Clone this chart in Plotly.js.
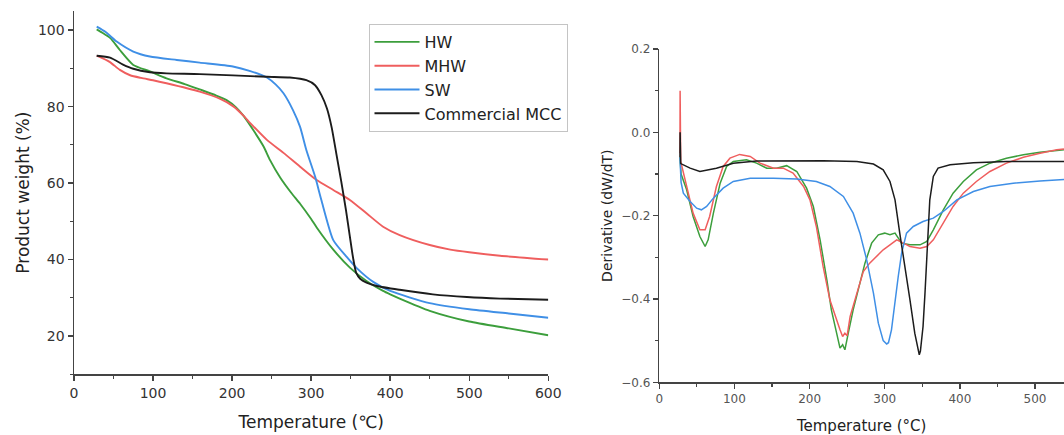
<!DOCTYPE html>
<html>
<head>
<meta charset="utf-8">
<script src="https://cdn.plot.ly/plotly-3.0.1.min.js"></script>
<style>html,body{margin:0;padding:0;background:#fff;}#chart{width:1064px;height:435px;}</style>
</head>
<body>
<div id="chart"></div>
<script>
// ---- TGA (left panel) ----
var seriesNames = ["HW", "MHW", "SW", "Commercial MCC"];

var tgaT_HW = [28.7, 36, 46, 58, 75, 96, 117, 140, 159, 180, 193, 205, 214, 227, 240, 248, 261, 275, 286, 300, 307, 328, 349, 370, 391, 400, 412, 450, 500, 550, 600];
var tgaW_HW = [100.2, 99.3, 97.9, 94.8, 90.9, 89.2, 87.4, 85.9, 84.5, 82.9, 81.7, 79.8, 77.7, 73.8, 69.5, 66, 61.4, 57.4, 54.6, 50.6, 48.4, 42.6, 37.9, 34.4, 31.8, 30.9, 29.8, 26.6, 23.8, 22, 20.2];

var tgaT_MHW = [28.7, 45, 58, 71, 85, 100, 117, 159, 185, 202, 215, 223, 244, 265, 286, 307, 328, 349, 370, 391, 412, 450, 476, 500, 539, 600];
var tgaW_MHW = [93.3, 91.7, 89.6, 88.2, 87.5, 86.9, 86.1, 83.9, 82, 80, 77.5, 75.7, 71.3, 67.9, 64.3, 60.8, 58.2, 55.6, 52.1, 48.6, 46.4, 43.8, 42.6, 41.9, 41, 40];

var tgaT_SW = [28.7, 40, 54, 75, 96, 130, 159, 201, 223, 244, 255, 265, 277, 286, 294, 305, 313, 328, 345, 358, 379, 400, 450, 500, 550, 600];
var tgaW_SW = [100.9, 99.5, 97, 94.4, 93.1, 92.2, 91.5, 90.5, 89.3, 87.6, 85.8, 83.5, 79.1, 74.7, 68.6, 61.7, 55.5, 45.1, 40.7, 37.7, 34.1, 31.8, 28.6, 27, 25.9, 24.8];

var tgaT_MCC = [28.7, 45.6, 62, 75, 96, 117, 159, 244, 273, 294, 305, 313, 320, 326, 332, 338, 344, 349, 353, 357, 362, 370, 383, 412, 454, 497, 539, 600];
var tgaW_MCC = [93.3, 92.8, 91, 89.9, 89, 88.7, 88.5, 87.8, 87.6, 86.9, 85.6, 83, 79.5, 74.5, 67.5, 60.5, 53, 46, 40.5, 36.5, 35, 34, 33.1, 32.1, 30.9, 30.2, 29.8, 29.5];

// ---- DTG (right panel) ----
var dtgT_HW = [27.5, 29, 36.4, 45, 54, 61, 65, 72, 81, 89.6, 98.5, 116, 129.5, 143, 156, 169.5, 183, 196, 205, 214, 223, 229, 236, 240.5, 244, 247, 251.5, 258, 267, 273.7, 282.6, 291.5, 300, 307, 313.7, 322.5, 333.6, 347, 356, 364.7, 378, 391, 404.6, 422, 440, 462, 484.5, 506.7, 538.6];
var dtgD_HW = [-0.06, -0.1, -0.138, -0.202, -0.25, -0.274, -0.258, -0.194, -0.122, -0.082, -0.07, -0.066, -0.074, -0.086, -0.086, -0.08, -0.094, -0.134, -0.178, -0.258, -0.354, -0.426, -0.482, -0.518, -0.51, -0.522, -0.482, -0.426, -0.362, -0.314, -0.266, -0.246, -0.242, -0.246, -0.242, -0.266, -0.27, -0.27, -0.262, -0.234, -0.186, -0.146, -0.118, -0.09, -0.074, -0.062, -0.054, -0.048, -0.042];

var dtgT_MHW = [27.5, 27.7, 28.5, 36.4, 45, 54, 61, 67, 76, 85, 94, 107, 121, 134, 152, 165, 178, 192, 200.5, 209, 218, 227, 234, 240.5, 244, 247, 250, 254, 263, 271.5, 280, 289, 298, 307, 316, 325, 333.6, 347, 356, 364.7, 378, 391, 404.6, 422, 440, 462, 484.5, 506.7, 529, 538.6];
var dtgD_MHW = [-0.05, 0.1, -0.07, -0.13, -0.194, -0.234, -0.234, -0.202, -0.13, -0.082, -0.062, -0.053, -0.058, -0.074, -0.086, -0.086, -0.098, -0.13, -0.162, -0.226, -0.322, -0.402, -0.442, -0.474, -0.49, -0.482, -0.488, -0.442, -0.386, -0.334, -0.314, -0.298, -0.282, -0.27, -0.258, -0.266, -0.274, -0.278, -0.274, -0.258, -0.218, -0.178, -0.146, -0.118, -0.094, -0.074, -0.06, -0.05, -0.042, -0.04];

var dtgT_SW = [27.5, 29, 32, 41, 49.7, 56, 63, 72, 85, 98.5, 121, 152, 183, 209, 227, 245, 258, 267, 276, 285, 291.5, 298, 302.6, 305, 309, 313.7, 318, 322.5, 329, 338, 351, 364.7, 378, 396, 418, 440, 471, 506.7, 538.6];
var dtgD_SW = [-0.06, -0.12, -0.146, -0.166, -0.182, -0.186, -0.178, -0.158, -0.134, -0.118, -0.11, -0.11, -0.112, -0.118, -0.13, -0.154, -0.194, -0.242, -0.306, -0.386, -0.458, -0.5, -0.508, -0.505, -0.474, -0.402, -0.346, -0.29, -0.242, -0.226, -0.214, -0.206, -0.19, -0.162, -0.142, -0.13, -0.122, -0.117, -0.113];

var dtgT_MCC = [27.5, 27.7, 28.5, 41, 54, 76, 98.5, 129.5, 218, 263, 285, 298, 307, 313.7, 320, 327, 333.6, 340, 344.7, 346, 347.5, 351, 353.6, 355.8, 358, 360, 364.7, 371, 387, 418, 462, 538.6];
var dtgD_MCC = [-0.06, 0.0, -0.075, -0.086, -0.094, -0.086, -0.074, -0.069, -0.068, -0.07, -0.076, -0.09, -0.118, -0.162, -0.242, -0.322, -0.402, -0.482, -0.53, -0.534, -0.525, -0.466, -0.386, -0.306, -0.226, -0.162, -0.106, -0.086, -0.078, -0.073, -0.07, -0.07];

var colors = ["#3c9e3c", "#ef5e5e", "#3f8fe6", "#1c1c1c"];
var FONT = "DejaVu Sans, Liberation Sans, Arial, sans-serif";

var tgaX = [tgaT_HW, tgaT_MHW, tgaT_SW, tgaT_MCC];
var tgaY = [tgaW_HW, tgaW_MHW, tgaW_SW, tgaW_MCC];
var dtgX = [dtgT_HW, dtgT_MHW, dtgT_SW, dtgT_MCC];
var dtgY = [dtgD_HW, dtgD_MHW, dtgD_SW, dtgD_MCC];

var traces = [];
for (var i = 0; i < 4; i++) {
  traces.push({
    x: tgaX[i], y: tgaY[i], name: seriesNames[i], type: "scatter", mode: "lines",
    line: {color: colors[i], width: 1.9, shape: "spline", smoothing: 0.6},
    xaxis: "x", yaxis: "y", showlegend: true
  });
}
for (var j = 0; j < 4; j++) {
  traces.push({
    x: dtgX[j], y: dtgY[j], name: seriesNames[j], type: "scatter", mode: "lines",
    line: {color: colors[j], width: 1.5},
    xaxis: "x2", yaxis: "y2", showlegend: false
  });
}

var axisBase = {
  showgrid: false, zeroline: false, showline: true, linecolor: "#444", linewidth: 1.5,
  ticks: "outside", ticklen: 5, tickwidth: 1.5, tickcolor: "#444", mirror: false
};
function ax(extra) { var o = {}; for (var k in axisBase) o[k] = axisBase[k]; for (var k2 in extra) o[k2] = extra[k2]; return o; }

var layout = {
  width: 1064, height: 435, autosize: false,
  margin: {l: 0, r: 0, t: 0, b: 0, pad: 0},
  paper_bgcolor: "#fff", plot_bgcolor: "#fff",
  font: {family: FONT, color: "#333"},
  xaxis: ax({
    domain: [74/1064, 548.3/1064], range: [0, 600], dtick: 100, tick0: 0,
    tickfont: {size: 14, color: "#333", family: FONT},
    minor: {ticks: "outside", ticklen: 3, dtick: 50, tickcolor: "#444", tickwidth: 1.2},
    title: {text: "Temperature (℃)", font: {size: 17, color: "#222", family: FONT}, standoff: 16},
    anchor: "y"
  }),
  yaxis: ax({
    domain: [(435-374.3)/435, (435-11)/435], range: [10, 105], dtick: 20, tick0: 0,
    tickfont: {size: 14, color: "#333", family: FONT},
    minor: {ticks: "outside", ticklen: 3, dtick: 10, tickcolor: "#444", tickwidth: 1.2},
    title: {text: "Product weight (%)", font: {size: 17, color: "#222", family: FONT}, standoff: 4},
    anchor: "x"
  }),
  xaxis2: ax({
    domain: [659.3/1064, 1], range: [0, 538.6], dtick: 100, tick0: 0,
    tickfont: {size: 12, color: "#555", family: FONT},
    minor: {ticks: "outside", ticklen: 3, dtick: 50, tickcolor: "#444", tickwidth: 1.2},
    title: {text: "Temperature (°C)", font: {size: 15, color: "#222", family: FONT}, standoff: 15},
    anchor: "y2"
  }),
  yaxis2: ax({
    domain: [(435-382.3)/435, (435-49)/435], range: [-0.6, 0.2], dtick: 0.2, tick0: 0,
    tickformat: ".1f",
    tickfont: {size: 12, color: "#555", family: FONT},
    minor: {ticks: "outside", ticklen: 3, dtick: 0.1, tickcolor: "#444", tickwidth: 1.2},
    title: {text: "Derivative (dW/dT)", font: {size: 14, color: "#222", family: FONT}, standoff: 5},
    anchor: "x2"
  }),
  legend: {
    x: 368.5/1064, y: (435-24)/435, xanchor: "left", yanchor: "top",
    bgcolor: "#fff", bordercolor: "#c4c4c4", borderwidth: 1,
    font: {family: FONT, size: 16, color: "#222"},
    itemwidth: 45, tracegroupgap: 0
  },
  showlegend: true
};

Plotly.newPlot("chart", traces, layout, {displayModeBar: false, staticPlot: true});
</script>
</body>
</html>
